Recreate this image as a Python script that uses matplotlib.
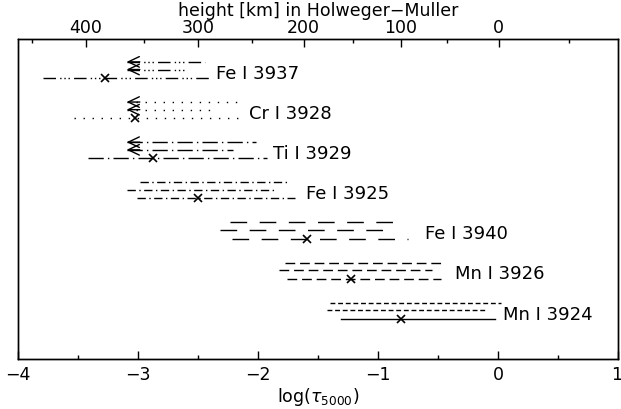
import numpy as np
import matplotlib
matplotlib.use("Agg")
import matplotlib.pyplot as plt
from matplotlib.ticker import FixedLocator, NullFormatter
from matplotlib.transforms import ScaledTranslation

plt.rcParams['font.family'] = ['DejaVu Sans']

# ---- data ----
names = ['Fe I 3937', 'Cr I 3928', 'Ti I 3929', 'Fe I 3925',
         'Fe I 3940', 'Mn I 3926', 'Mn I 3924']
line1_start = [-3.097, -3.097, -3.097, -2.985, -2.236, -1.778, -1.4025]
line1_end   = [-2.444, -2.180, -2.019, -1.745, -0.845, -0.444, 0.028]
line2_start = [-3.097, -3.097, -3.097, -3.094, -2.320, -1.828, -1.4275]
line2_end   = [-2.597, -2.350, -2.210, -1.860, -0.960, -0.553, -0.110]
line3_start = [-3.797, -3.536, -3.417, -3.010, -2.220, -1.761, -1.313]
line3_end   = [-2.414, -2.147, -1.930, -1.690, -0.753, -0.478, -0.0275]
mark_pos    = [-3.278, -3.028, -2.875, -2.500, -1.596, -1.230, -0.813]
label_x     = [-2.352, -2.078, -1.880, -1.600, -0.610, -0.360, 0.040]
has_arrow   = [True, True, True, False, False, False, False]

# Holweger-Muller height scale vs log tau
hm_height = [450, 400, 350, 300, 250, 200, 150, 100, 50, 0, -50]
hm_logtau = [-3.888, -3.436, -2.953, -2.500, -2.055, -1.622, -1.208,
             -0.811, -0.425, 0.006, 0.592]
hm_major = [400, 300, 200, 100, 0]

bottom_ticks = [-4, -3, -2, -1, 0, 1]

# ---- styles ----
styles = [
    (0, (9, 3, 1, 2, 1, 2, 1, 3)),   # dash-dot-dot-dot
    (0, (1, 5.5)),                   # dotted
    (0, (11, 3, 1, 3)),              # long dash-dot
    (0, (6, 2.5, 1, 2.5)),           # dash-dot
    (0, (12, 9)),                    # long dash
    (0, (7, 3.5)),                   # dash
    (0, (3.5, 2)),                   # short dash
]

fig = plt.figure(figsize=(6.21, 4.10), dpi=100)
ax = fig.add_axes([18.3 / 621, 50 / 410, (618 - 18.3) / 621, 320 / 410])

n = len(names)
off1, off2 = 0.40, 0.21
lw = 1.0
for i in range(n):
    y = n - i
    ls = styles[i]
    ls3 = '-' if names[i] == 'Mn I 3924' else ls
    ax.plot([line1_start[i], line1_end[i]], [y + off1] * 2, color='k', lw=lw, ls=ls)
    ax.plot([line2_start[i], line2_end[i]], [y + off2] * 2, color='k', lw=lw, ls=ls)
    ax.plot([line3_start[i], line3_end[i]], [y] * 2, color='k', lw=lw, ls=ls3)
    ax.plot([mark_pos[i]], [y], marker='x', color='k', ms=6, mew=1.2, ls='none')
    if has_arrow[i]:
        for xs, yy in [(line1_start[i], y + off1), (line2_start[i], y + off2)]:
            ax.annotate('', xy=(xs, yy), xytext=(xs + 0.11, yy),
                        arrowprops=dict(arrowstyle='->,head_length=0.8,head_width=0.38',
                                        color='k', lw=lw, shrinkA=0, shrinkB=0,
                                        mutation_scale=10))
    ax.text(label_x[i], y + 0.13, names[i], va='center', ha='left', fontsize=13)

ax.set_xlim(-4, 1)
ax.set_ylim(0, 7.97)
ax.set_xticks(bottom_ticks)
ax.set_xticklabels(['\u2212' + str(-t) if t < 0 else str(t) for t in bottom_ticks])
ax.set_xticks(np.arange(-3.5, 1, 1.0), minor=True)
ax.set_yticks([])
ax.tick_params(axis='x', which='major', direction='in', length=6, width=1, labelsize=12.5, pad=4)
ax.tick_params(axis='x', which='minor', direction='in', length=3, width=1)
last = ax.get_xticklabels()[-1]
last.set_ha('right')
last.set_transform(last.get_transform() + ScaledTranslation(4 / 100, 0, fig.dpi_scale_trans))
ax.set_xlabel(r'log($\tau_{5000}$)', fontsize=12.5, labelpad=2)

ax2 = ax.twiny()
ax2.set_xlim(-4, 1)
major_pos = list(np.interp(hm_major, hm_height[::-1], hm_logtau[::-1]))
minor_pos = [p for h, p in zip(hm_height, hm_logtau) if h not in hm_major]
ax2.xaxis.set_major_locator(FixedLocator(major_pos))
ax2.set_xticklabels([str(h) for h in hm_major])
ax2.xaxis.set_minor_locator(FixedLocator(minor_pos))
ax2.xaxis.set_minor_formatter(NullFormatter())
ax2.tick_params(axis='x', which='major', direction='in', length=6, width=1, labelsize=12.5, pad=2)
ax2.tick_params(axis='x', which='minor', direction='in', length=3, width=1)
ax2.set_xlabel('height [km] in Holweger\u2212Muller', fontsize=12.5, labelpad=2)

for a in (ax, ax2):
    for s in a.spines.values():
        s.set_linewidth(1.0)

fig.savefig('out.png', dpi=100)
